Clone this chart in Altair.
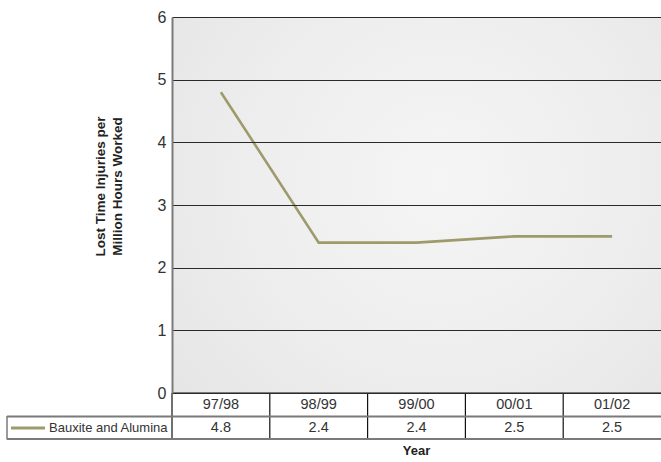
import altair as alt
import pandas as pd

# Lost time injuries per million hours worked, Bauxite and Alumina
years = ["97/98", "98/99", "99/00", "00/01", "01/02"]
ltifr = [4.8, 2.4, 2.4, 2.5, 2.5]
series_name = "Bauxite and Alumina"
y_ticks = [0, 1, 2, 3, 4, 5, 6]

W, H = 489, 376
STEP = W / len(years)
LINE_COLOR = "#9e9a6c"
GRID = "#2a2a2a"
FRAME = "#7a7a7a"
TEXT = "#333333"
FONT = "Liberation Sans"

df = pd.DataFrame({"year": years, "value": ltifr})
df["label"] = [f"{v:.1f}" for v in ltifr]
one = pd.DataFrame({"k": [0]})

x_enc = alt.X("year:N", sort=years, axis=None,
              scale=alt.Scale(type="point", padding=0.5))
y_scale = alt.Scale(domain=[0, 6], nice=False, zero=True)

# soft radial shading behind the plot area
background = alt.Chart(one).mark_rect(
    fill=alt.Gradient(
        gradient="radial",
        stops=[alt.GradientStop(color="#f5f5f5", offset=0),
               alt.GradientStop(color="#ededed", offset=0.55),
               alt.GradientStop(color="#e4e4e4", offset=1)],
        x1=0.55, y1=0.45, r1=0, x2=0.55, y2=0.45, r2=0.75,
    )
).encode(x=alt.value(0), x2=alt.value(W), y=alt.value(0), y2=alt.value(H))

line = alt.Chart(df).mark_line(color=LINE_COLOR, strokeWidth=2.6).encode(
    x=x_enc,
    y=alt.Y("value:Q", scale=y_scale,
            axis=alt.Axis(values=y_ticks, ticks=False, labelPadding=6,
                          labelFontSize=16, labelFont=FONT, labelColor=TEXT,
                          domainColor=FRAME, domainWidth=2,
                          grid=True, gridColor=GRID, gridWidth=1.2,
                          zindex=1,
                          title=["Lost Time Injuries per", "Million Hours Worked"],
                          titleFont=FONT, titleFontSize=13.5,
                          titleFontWeight="bold", titleColor="#222222",
                          titleLineHeight=17, titleAngle=-90,
                          titleAlign="center", titleBaseline="middle",
                          titleX=-72, titleY=169)),
)

# data table underneath the plot
year_cells = alt.Chart(df).mark_text(
    font=FONT, fontSize=14.5, color=TEXT, baseline="middle"
).encode(x=x_enc, y=alt.value(H + 12), text="year:N")

value_cells = alt.Chart(df).mark_text(
    font=FONT, fontSize=14.5, color=TEXT, baseline="middle"
).encode(x=x_enc, y=alt.value(H + 35), text="label:N")

col_borders = alt.Chart(df).mark_rule(color="#111111", strokeWidth=1.2,
                                      xOffset=-STEP / 2).encode(
    x=x_enc, y=alt.value(H), y2=alt.value(H + 46))

legend_border = alt.Chart(one).mark_rule(color=FRAME, strokeWidth=1.5).encode(
    x=alt.value(-165), y=alt.value(H + 23), y2=alt.value(H + 46.5))

base_rule = alt.Chart(one).mark_rule(color=FRAME, strokeWidth=2).encode(
    x=alt.value(0), x2=alt.value(W), y=alt.value(H))
row_rule = alt.Chart(one).mark_rule(color=FRAME, strokeWidth=2).encode(
    x=alt.value(-165), x2=alt.value(W), y=alt.value(H + 23.5))
bottom_rule = alt.Chart(one).mark_rule(color=FRAME, strokeWidth=2).encode(
    x=alt.value(-165), x2=alt.value(W), y=alt.value(H + 46))

swatch = alt.Chart(one).mark_rule(color=LINE_COLOR, strokeWidth=3).encode(
    x=alt.value(-161), x2=alt.value(-127), y=alt.value(H + 35))
swatch_label = alt.Chart(pd.DataFrame({"t": [series_name]})).mark_text(
    font=FONT, fontSize=13, color=TEXT, align="left", baseline="middle"
).encode(x=alt.value(-123), y=alt.value(H + 35), text="t:N")

x_title = alt.Chart(pd.DataFrame({"t": ["Year"]})).mark_text(
    font=FONT, fontSize=13, fontWeight="bold", color="#222222",
    align="center", baseline="middle"
).encode(x=alt.value(W / 2), y=alt.value(H + 58), text="t:N")

chart = alt.layer(
    background, line, col_borders, legend_border,
    base_rule, row_rule, bottom_rule,
    year_cells, value_cells, swatch, swatch_label, x_title,
).properties(
    width=W, height=H,
    autosize=alt.AutoSizeParams(type="none"),
    padding={"left": 172, "top": 17, "right": 0, "bottom": 69},
    background="white",
).configure_view(stroke=None)

chart.save("out.html", embed_options={"renderer": "svg", "actions": False})
